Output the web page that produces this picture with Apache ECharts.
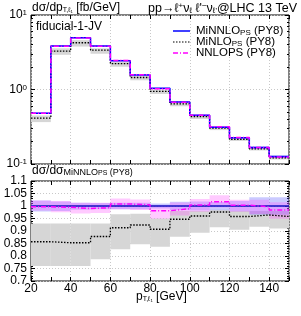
<!DOCTYPE html>
<html><head><meta charset="utf-8">
<script src="https://cdn.jsdelivr.net/npm/echarts@6/dist/echarts.min.js"></script>
<style>html,body{margin:0;padding:0;background:#fff}#c{width:301px;height:316px}</style>
</head><body><div id="c"></div>
<script>
// ---- data ----
const binEdges = [20,30,40,50,60,70,80,90,100,110,120,130,140,150];
// top panel: dsigma/dpT [fb/GeV]
const minnlo   = [0.48, 3.84, 4.96, 3.84, 2.44, 1.57, 1.04, 0.68, 0.45, 0.311, 0.225, 0.166, 0.126];
const minnloLo = [0.469, 3.76, 4.89, 3.79, 2.41, 1.55, 1.03, 0.669, 0.442, 0.305, 0.22, 0.16, 0.122];
const minnloHi = [0.491, 3.91, 5.02, 3.89, 2.47, 1.59, 1.05, 0.692, 0.458, 0.317, 0.23, 0.172, 0.130];
const nnlops   = [0.479, 3.82, 4.91, 3.81, 2.46, 1.58, 1.02, 0.673, 0.452, 0.316, 0.226, 0.166, 0.124];
const nnlopsLo = [0.471, 3.74, 4.81, 3.73, 2.41, 1.55, 0.99, 0.654, 0.44, 0.309, 0.22, 0.161, 0.12];
const nnlopsHi = [0.49, 3.92, 5.02, 3.89, 2.51, 1.61, 1.04, 0.69, 0.463, 0.324, 0.231, 0.17, 0.128];
const minlo    = [0.412, 3.28, 4.24, 3.37, 2.23, 1.45, 0.945, 0.642, 0.432, 0.303, 0.215, 0.16, 0.121];
const minloLo  = [0.365, 2.92, 3.77, 3.02, 2.02, 1.33, 0.87, 0.596, 0.402, 0.285, 0.204, 0.152, 0.115];
const minloHi  = [0.448, 3.57, 4.6, 3.57, 2.36, 1.52, 0.99, 0.666, 0.441, 0.306, 0.221, 0.163, 0.124];
// ratio panel: ratio to MiNNLO_PS
const rMinnlo   = [1,1,1,1,1,1,1,1,1,1,1,1,1];
const rMinnloLo = [0.978, 0.98, 0.985, 0.987, 0.987, 0.987, 0.99, 0.983, 0.982, 0.983, 0.979, 0.965, 0.965];
const rMinnloHi = [1.022, 1.018, 1.013, 1.012, 1.013, 1.013, 1.01, 1.017, 1.018, 1.016, 1.02, 1.035, 1.035];
const rNnlops   = [0.997, 0.995, 0.99, 0.993, 1.008, 1.005, 0.981, 0.989, 1.004, 1.017, 1.003, 0.997, 0.984];
const rNnlopsLo = [0.982, 0.975, 0.97, 0.972, 0.987, 0.984, 0.949, 0.962, 0.977, 0.994, 0.977, 0.968, 0.949];
const rNnlopsHi = [1.022, 1.02, 1.013, 1.013, 1.03, 1.026, 1.003, 1.014, 1.028, 1.043, 1.025, 1.025, 1.015];
const rMinlo    = [0.857, 0.853, 0.853, 0.878, 0.913, 0.924, 0.907, 0.947, 0.96, 0.976, 0.958, 0.964, 0.958];
const rMinloLo  = [0.76, 0.76, 0.76, 0.787, 0.827, 0.847, 0.837, 0.877, 0.893, 0.915, 0.905, 0.917, 0.91];
const rMinloHi  = [0.93, 0.93, 0.93, 0.93, 0.967, 0.969, 0.95, 0.98, 0.98, 0.985, 0.98, 0.98, 0.98];
const xTicks = [20, 40, 60, 80, 100, 120, 140];
const logTicks = [0.1, 1, 10];

// ---- helpers ----
const FONT = '"Liberation Sans", Arial, sans-serif';
function stepData(v){ return binEdges.map((e,i)=>[e, v[Math.min(i, v.length-1)]]); }
function bandData(lo, hi){ return lo.map((l,i)=>[binEdges[i], binEdges[i+1], l, hi[i]]); }
function bandSeries(xi, yi, lo, hi, color, z){
  return {
    type:'custom', xAxisIndex:xi, yAxisIndex:yi, z:z, silent:true,
    data: bandData(lo, hi),
    encode:{x:[0,1], y:[2,3]},
    renderItem:function(params, api){
      const p0 = api.coord([api.value(0), api.value(3)]);
      const p1 = api.coord([api.value(1), api.value(2)]);
      const r = echarts.graphic.clipRectByRect(
        {x:p0[0], y:p0[1], width:p1[0]-p0[0], height:p1[1]-p0[1]},
        {x:params.coordSys.x, y:params.coordSys.y, width:params.coordSys.width, height:params.coordSys.height});
      return r && {type:'rect', shape:r, style:{fill:color}};
    }
  };
}
function lineSeries(xi, yi, v, color, type, width, z){
  return {type:'line', xAxisIndex:xi, yAxisIndex:yi, step:'end', symbol:'none', z:z, silent:true,
    data: stepData(v), lineStyle:{color:color, width:width, type:type}};
}
const tickStyle = {show:true, inside:true, length:4, lineStyle:{color:'#000', width:1}};
const minorStyle = {show:true, length:2, lineStyle:{color:'#000', width:1}};
const gridLine = {show:true, lineStyle:{color:'#c8c8c8', type:[1,2], width:1}};

function xAxes(gi, labels){
  return [
    {type:'value', gridIndex:gi, min:20, max:150, interval:20, position:'bottom',
     axisLine:{show:false}, axisTick:{show:false}, splitLine:gridLine,
     axisLabel: labels ? {show:true, color:'#000', fontFamily:FONT, fontSize:12, margin:2, showMaxLabel:false,
        formatter:v=> xTicks.indexOf(v)>=0 ? String(v) : ''} : {show:false}},
    {type:'value', gridIndex:gi, min:20, max:150, interval:10, position:'bottom',
     axisLine:{show:false}, axisTick:tickStyle, splitLine:{show:false}, axisLabel:{show:false}},
    {type:'value', gridIndex:gi, min:20, max:150, interval:10, position:'top',
     axisLine:{show:false}, axisTick:tickStyle, splitLine:{show:false}, axisLabel:{show:false}}
  ];
}

const option = {
  animation:false,
  backgroundColor:'#fff',
  textStyle:{fontFamily:FONT},
  grid:[
    {left:31, top:15, width:258, height:149, show:true, borderColor:'#000', borderWidth:1, backgroundColor:'transparent'},
    {left:31, top:181, width:258, height:100, show:true, borderColor:'#000', borderWidth:1, backgroundColor:'transparent'}
  ],
  xAxis: [].concat(xAxes(0,false), xAxes(1,true)),
  yAxis:[
    {type:'log', gridIndex:0, min:0.1, max:10, logBase:10, position:'left',
     axisLine:{show:false}, axisTick:tickStyle, minorTick:Object.assign({splitNumber:9}, minorStyle),
     splitLine:gridLine,
     axisLabel:{color:'#000', fontFamily:FONT, fontSize:12, margin:4,
       formatter:v=>{ const e=Math.round(Math.log10(v)); return '10{sup|'+(e<0?'-':'')+Math.abs(e)+'}'; },
       rich:{sup:{fontSize:8, verticalAlign:'top', lineHeight:8, padding:[0,0,8,0]}}}},
    {type:'log', gridIndex:0, min:0.1, max:10, logBase:10, position:'right',
     axisLine:{show:false}, axisTick:tickStyle, minorTick:Object.assign({splitNumber:9}, minorStyle),
     splitLine:{show:false}, axisLabel:{show:false}},
    {type:'value', gridIndex:1, min:0.7, max:1.1, interval:0.05, position:'left',
     axisLine:{show:false}, axisTick:tickStyle, minorTick:Object.assign({splitNumber:5}, minorStyle),
     splitLine:gridLine,
     axisLabel:{color:'#000', fontFamily:FONT, fontSize:12, margin:4,
       formatter:v=>String(parseFloat(v.toFixed(2)))}},
    {type:'value', gridIndex:1, min:0.7, max:1.1, interval:0.05, position:'right',
     axisLine:{show:false}, axisTick:tickStyle, minorTick:Object.assign({splitNumber:5}, minorStyle),
     splitLine:{show:false}, axisLabel:{show:false}}
  ],
  series:[
    bandSeries(0,0, minloLo, minloHi, '#d6d6d6', 1),
    bandSeries(0,0, minnloLo, minnloHi, 'rgba(80,80,255,0.3)', 2),
    bandSeries(0,0, nnlopsLo, nnlopsHi, 'rgba(255,80,255,0.3)', 3),
    lineSeries(0,0, minlo, '#000', [1.5,1.5], 1.3, 5),
    lineSeries(0,0, minnlo, '#0000ff', 'solid', 1.5, 6),
    lineSeries(0,0, nnlops, '#ff00ff', [5,2,1,2], 1.5, 7),
    bandSeries(3,2, rMinloLo, rMinloHi, '#d6d6d6', 1),
    bandSeries(3,2, rMinnloLo, rMinnloHi, 'rgba(80,80,255,0.3)', 2),
    bandSeries(3,2, rNnlopsLo, rNnlopsHi, 'rgba(255,80,255,0.3)', 3),
    lineSeries(3,2, rMinlo, '#000', [1.5,1.5], 1.3, 5),
    lineSeries(3,2, rMinnlo, '#1010c0', 'solid', 1.5, 6),
    lineSeries(3,2, rNnlops, '#ff00ff', [5,2,1,2], 1.5, 7)
  ],
  graphic:[
    {type:'text', left:32, top:2, z:100, style:{text:'dσ/dp{sub|T,ℓ₁} [fb/GeV]', fill:'#000', font:'12px '+FONT,
      rich:{sub:{fontSize:7, verticalAlign:'bottom', lineHeight:8}}}},
    {type:'text', right:4, top:2, z:100, style:{text:'pp→ℓ{sup|+}ν{sub|ℓ} ℓ\'{sup|−}ν{sub|ℓ\'}@LHC 13 TeV', fill:'#000', font:'12.5px '+FONT,
      rich:{sub:{fontSize:8, verticalAlign:'bottom', lineHeight:8}, sup:{fontSize:8, verticalAlign:'top', lineHeight:8}}}},
    {type:'text', left:36, top:21, z:100, style:{text:'fiducial-1-JV', fill:'#000', font:'12px '+FONT}},
    {type:'line', z:100, shape:{x1:173, y1:31, x2:190, y2:31}, style:{stroke:'#0000ff', lineWidth:1.5}},
    {type:'line', z:100, shape:{x1:173, y1:42, x2:190, y2:42}, style:{stroke:'#000', lineWidth:1.2, lineDash:[1.5,1.5]}},
    {type:'line', z:100, shape:{x1:173, y1:53, x2:190, y2:53}, style:{stroke:'#ff00ff', lineWidth:1.5, lineDash:[5,2,1,2]}},
    {type:'text', left:196, top:25, z:100, style:{text:'MiNNLO{sub|PS} (PY8)', fill:'#000', font:'11.5px '+FONT,
      rich:{sub:{fontSize:8, verticalAlign:'bottom', lineHeight:8}}}},
    {type:'text', left:196, top:36, z:100, style:{text:'MiNLO{sub|PS} (PY8)', fill:'#000', font:'11.5px '+FONT,
      rich:{sub:{fontSize:8, verticalAlign:'bottom', lineHeight:8}}}},
    {type:'text', left:196, top:47, z:100, style:{text:'NNLOPS (PY8)', fill:'#000', font:'11.5px '+FONT}},
    {type:'text', left:32, top:165, z:100, style:{text:'dσ/dσ{sub|MiNNLO}{ss|PS}{sub| (PY8)}', fill:'#000', font:'12px '+FONT,
      rich:{sub:{fontSize:9, verticalAlign:'bottom', lineHeight:10}, ss:{fontSize:7, verticalAlign:'bottom', lineHeight:8}}}},
    {type:'text', left:136, top:291, z:100, style:{text:'p{sub|T,ℓ₁} [GeV]', fill:'#000', font:'12px '+FONT,
      rich:{sub:{fontSize:7, verticalAlign:'bottom', lineHeight:8}}}}
  ]
};
const chart = echarts.init(document.getElementById('c'), null, {renderer:'canvas'});
chart.setOption(option);
</script></body></html>
